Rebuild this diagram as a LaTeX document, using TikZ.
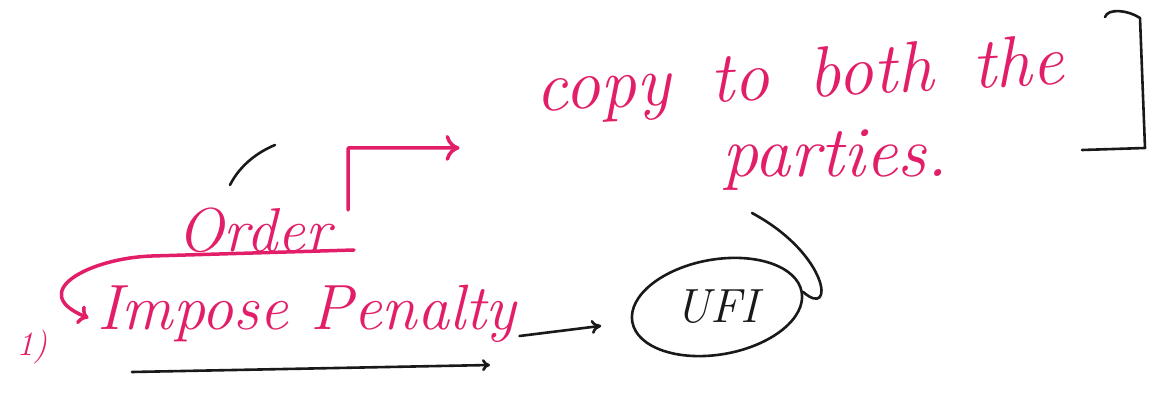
\documentclass[tikz,border=0pt]{standalone}
\usepackage{fontspec}
\usetikzlibrary{positioning,shapes.geometric,arrows.meta,calc}
\definecolor{inkpink}{RGB}{226,30,105}
\definecolor{inkblack}{RGB}{25,25,25}
\newcommand\widegap{\spaceskip=0.55em\relax}
\tikzset{
  pinkword/.style={inkpink,font=\fontsize{72}{80}\selectfont\itshape\widegap,inner sep=1pt},
  pinkline/.style={draw=inkpink,line width=3.5pt,line cap=round,line join=round},
  blackline/.style={draw=inkblack,line width=2.6pt,line cap=round,line join=round}
}
\begin{document}
\begin{tikzpicture}[x=1pt,y=-1pt]
            \useasboundingbox (0,0) rectangle (1167,411);
            \node[pinkword,font=\fontsize{62}{70}\selectfont\itshape\addfontfeature{LetterSpace=16}] (order) at (254,230) {Order};
            \node[pinkword,rotate=3] (copy) at (800,80) {copy to both the};
            \node[pinkword] (parties) at (835,160) {parties.};
            \node[pinkword,font=\fontsize{64}{70}\selectfont\itshape] (impose) at (307,314) {Impose Penalty};
            \node[pinkword,font=\fontsize{34}{40}\selectfont\itshape] (num) at (32,347) {1)};
            \node[blackline,ellipse,minimum width=172pt,minimum height=95pt,rotate=10] (ufi) at (717,307) {};
            \node[inkblack,font=\fontsize{48}{54}\selectfont\itshape] (ufitext) at (ufi) {UFI};
            \coordinate (ulL) at (152,256);
            \coordinate (ulR) at (354,250);
            % order underline and arrows
            \draw[pinkline] (ulL) -- (ulR);
            \draw[pinkline,-{To[length=14pt,width=26pt]}] (348,210) -- (348,148) -- ($(copy.west)+(-75,54)$);
            \draw[pinkline,-{To[length=10pt,width=20pt]}] (ulL) .. controls (90,258) and (25,292) .. ($(impose.west)+(-8,4)$);
            % black marks
            \draw[blackline,shorten >=30pt,-{To[length=10pt,width=14pt]}] ($(impose.east)+(2,22)$) -- (ufi.west);
            \draw[blackline,-{To[length=8pt,width=12pt]}] (132,372) -- (490,365);
            \draw[blackline] (752,213) .. controls (830,255) and (835,320) .. (ufi.east);
            \draw[blackline] (230,185) .. controls (240,165) and (258,152) .. (275,145);
            \draw[blackline] (1105,17) .. controls (1108,8) and (1128,10) .. (1140,18) -- (1145,148) -- (1082,150);
\end{tikzpicture}
\end{document}
